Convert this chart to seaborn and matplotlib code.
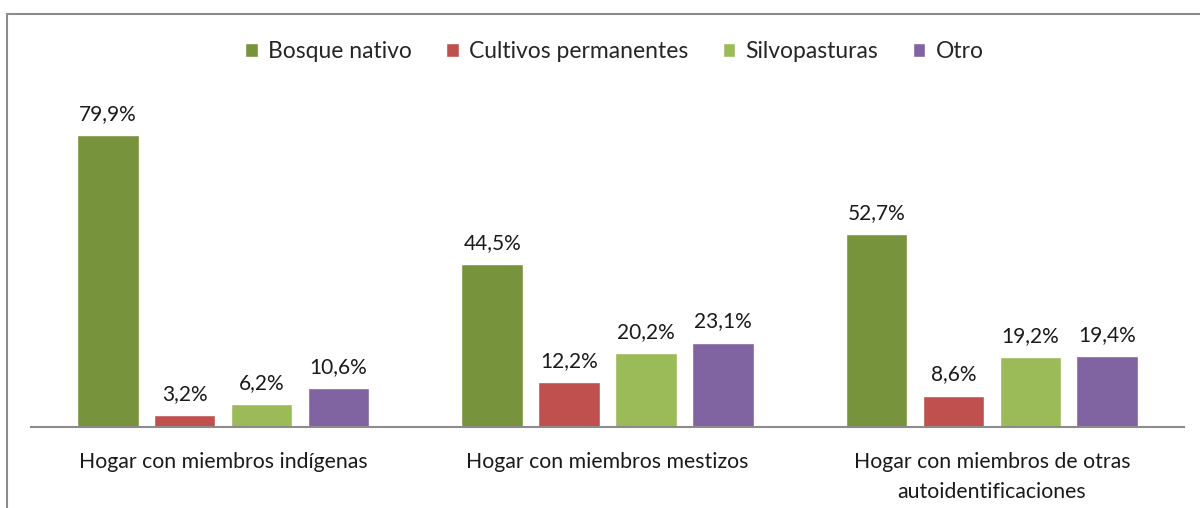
import matplotlib
matplotlib.use("Agg")
import matplotlib.pyplot as plt
from matplotlib.lines import Line2D
import seaborn as sns
import pandas as pd

categories = ["Hogar con miembros indígenas",
              "Hogar con miembros mestizos",
              "Hogar con miembros de otras\nautoidentificaciones"]
series = ["Bosque nativo", "Cultivos permanentes", "Silvopasturas", "Otro"]
bosque_nativo = [79.9, 44.5, 52.7]
cultivos_permanentes = [3.2, 12.2, 8.6]
silvopasturas = [6.2, 20.2, 19.2]
otro = [10.6, 23.1, 19.4]
colors = ["#77933C", "#C0504D", "#9BBB59", "#8064A2"]

values = [bosque_nativo, cultivos_permanentes, silvopasturas, otro]
rows = []
for s, vals in zip(series, values):
    for c, v in zip(categories, vals):
        rows.append({"cat": c, "serie": s, "valor": v})
df = pd.DataFrame(rows)

sns.set_theme(style="white")
plt.rcParams["font.family"] = ["Lato", "DejaVu Sans"]

fig = plt.figure(figsize=(12, 5.08), dpi=100)
ax = fig.add_axes([31/1200, (508-427)/508, 1153/1200, 90*3.655/508])

sns.barplot(data=df, x="cat", y="valor", hue="serie", order=categories,
            hue_order=series, palette=colors, width=0.8, gap=0.2,
            saturation=1, ax=ax, legend=True)

for cont in ax.containers:
    labs = [f"{b.get_height():.1f}%".replace(".", ",") for b in cont]
    ax.bar_label(cont, labels=labs, padding=8, fontsize=15, color="#1a1a1a")

ax.set_xlim(-0.5, 2.5)
ax.set_ylim(0, 90)
ax.set_xlabel("")
ax.set_ylabel("")
ax.set_yticks([])
for sp in ["left", "right", "top"]:
    ax.spines[sp].set_visible(False)
ax.spines["bottom"].set_color("#8c8c8c")
ax.spines["bottom"].set_linewidth(1.5)
ax.tick_params(axis="x", length=0, pad=18, labelsize=15.3, labelcolor="#1a1a1a")
for t in ax.get_xticklabels():
    t.set_linespacing(1.6)
    t.set_verticalalignment("top")

handles, labels = ax.get_legend_handles_labels()
ax.get_legend().remove()
fig.legend(handles, labels, loc="center", bbox_to_anchor=(0.512, 0.898),
           ncol=4, frameon=False, fontsize=16.5, handlelength=0.55,
           handleheight=0.55, handletextpad=0.45, columnspacing=1.5)

# outer frame
fig.add_artist(Line2D([7/1200, 7/1200], [0, 1 - 14/508], color="#8c8c8c", lw=1.5,
                      transform=fig.transFigure))
fig.add_artist(Line2D([7/1200, 1], [1 - 14/508, 1 - 14/508], color="#8c8c8c", lw=1.5,
                      transform=fig.transFigure))

fig.savefig("out.png", dpi=100, facecolor="white")
